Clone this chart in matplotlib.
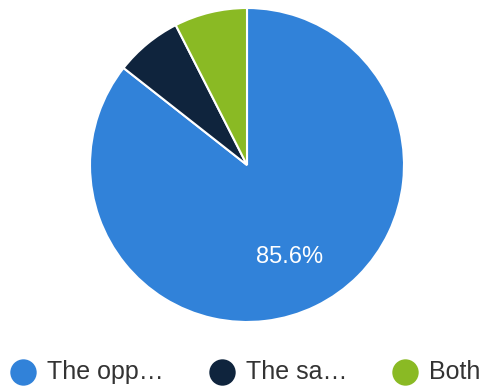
import matplotlib.pyplot as plt
from matplotlib.lines import Line2D
import numpy as np

plt.rcParams['font.family'] = ['Liberation Sans', 'DejaVu Sans']

labels = ['The opp…', 'The sa…', 'Both']
values = [85.6, 6.9, 7.5]
colors = ['#3182d9', '#0f243d', '#8aba24']

fig = plt.figure(figsize=(4.82, 3.88), dpi=100)
ax = fig.add_axes([90 / 482, 66 / 388, 314 / 482, 314 / 388])

wedges, texts = ax.pie(values, colors=colors, startangle=90, counterclock=False,
                       wedgeprops=dict(edgecolor='white', linewidth=1.5))

# only the big slice gets a percentage
theta = np.deg2rad(90 - values[0] / 100 * 360 / 2)
ax.text(0.64 * np.cos(theta) - 0.01, 0.64 * np.sin(theta) - 0.01, f'{values[0]}%',
        color='white', fontsize=17, ha='center', va='center')
ax.set_xlim(-1, 1)
ax.set_ylim(-1, 1)
ax.set_aspect('equal')
ax.axis('off')

# legend row along the bottom
xs = [23, 222, 405]
y = 1 - 372 / 388
for x, lab, c in zip(xs, labels, colors):
    fig.add_artist(Line2D([x / 482], [y], marker='o', markersize=19, color=c,
                          markeredgewidth=0, transform=fig.transFigure))
    fig.text((x + 24) / 482, y, lab, fontsize=18, color='#333333',
             ha='left', va='center')

fig.savefig('out.png', dpi=100)
